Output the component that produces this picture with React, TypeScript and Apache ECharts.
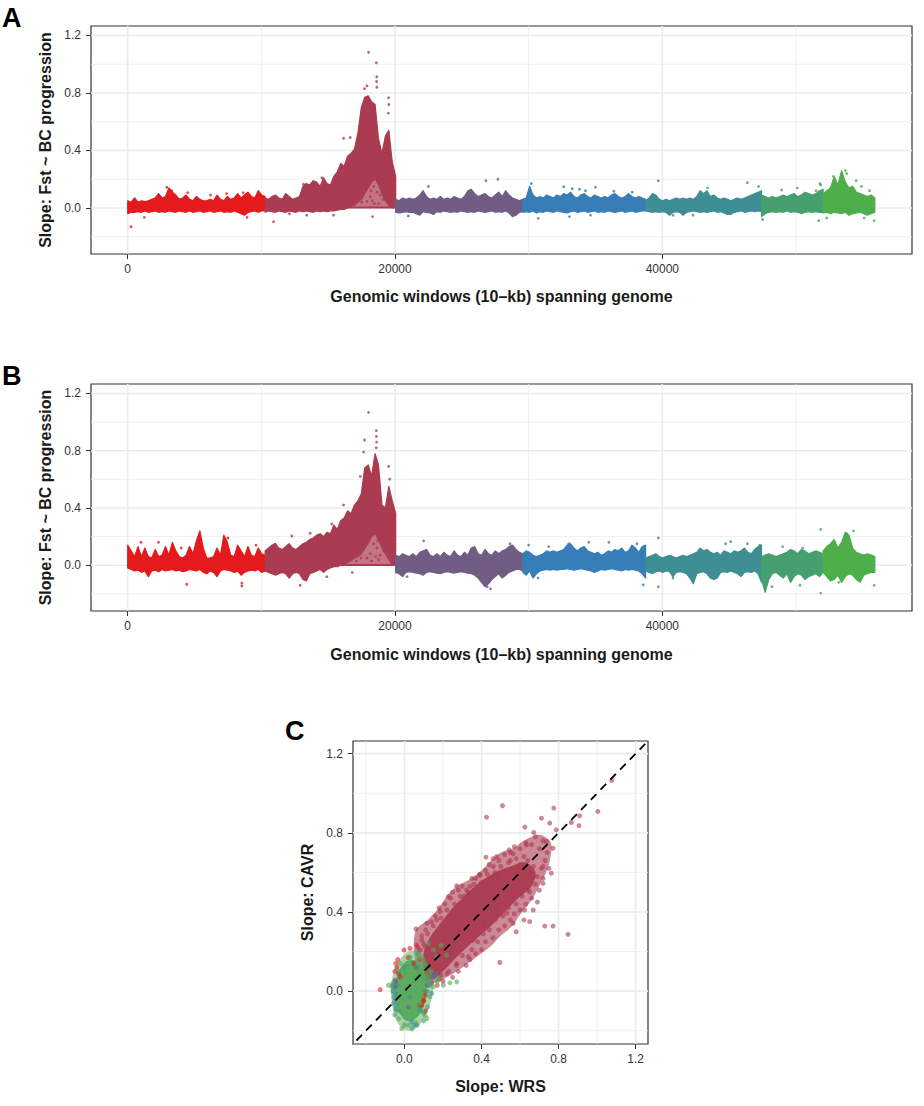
import React, { useEffect, useRef } from "react"
import * as echarts from "echarts"

// chromosome colours (ramp red -> blue -> green) and window boundaries
const CHROM_COLORS = ["#E41A1C", "#AA3B50", "#715D84", "#377EB8", "#3E8E93", "#469F6F", "#4DAF4A"]
const CHROM_BOUNDS = [0, 10280, 20050, 29560, 38750, 47420, 52030, 55900]

const X_MAJOR = [0, 20000, 40000]
const X_MINOR = [10000, 30000, 50000]
const Y_MAJOR = [0, 0.4, 0.8, 1.2]
const Y_MINOR = [-0.2, 0.2, 0.6, 1.0]
const C_MAJOR = [0, 0.4, 0.8, 1.2]
const C_MINOR = [-0.2, 0.2, 0.6, 1.0]

const GENOME_RANGE = [-2746, 58680]
const SLOPE_RANGE = [-0.32, 1.266]
const C_RANGE = [-0.267, 1.264]

// panel A: upper / lower envelope of the dense point band, per chromosome
const A_HI = [
  [0.05, 0.04, 0.07, 0.04, 0.05, 0.045, 0.05, 0.06, 0.07, 0.10, 0.07, 0.08, 0.14, 0.11, 0.09, 0.06, 0.07, 0.09, 0.06, 0.05, 0.08, 0.06, 0.05, 0.05, 0.06, 0.05, 0.09, 0.06, 0.05, 0.08, 0.06, 0.07, 0.10, 0.07, 0.09, 0.11, 0.08, 0.07, 0.12, 0.09, 0.08],
  [0.07, 0.06, 0.08, 0.09, 0.07, 0.06, 0.10, 0.08, 0.06, 0.07, 0.08, 0.15, 0.17, 0.16, 0.19, 0.18, 0.15, 0.21, 0.17, 0.16, 0.22, 0.25, 0.31, 0.29, 0.36, 0.38, 0.41, 0.52, 0.70, 0.77, 0.78, 0.74, 0.72, 0.48, 0.38, 0.50, 0.54, 0.32, 0.22],
  [0.06, 0.05, 0.07, 0.06, 0.07, 0.06, 0.07, 0.09, 0.12, 0.08, 0.06, 0.07, 0.06, 0.08, 0.06, 0.07, 0.06, 0.08, 0.07, 0.06, 0.08, 0.12, 0.13, 0.10, 0.08, 0.09, 0.10, 0.08, 0.07, 0.09, 0.11, 0.08, 0.12, 0.09, 0.07, 0.06, 0.05, 0.06],
  [0.06, 0.07, 0.15, 0.09, 0.07, 0.08, 0.07, 0.09, 0.08, 0.07, 0.09, 0.08, 0.10, 0.09, 0.11, 0.08, 0.07, 0.09, 0.10, 0.08, 0.07, 0.09, 0.08, 0.07, 0.08, 0.07, 0.09, 0.10, 0.08, 0.07, 0.08, 0.10, 0.08, 0.07, 0.08, 0.07, 0.06],
  [0.05, 0.07, 0.10, 0.09, 0.06, 0.05, 0.06, 0.05, 0.06, 0.07, 0.06, 0.07, 0.06, 0.07, 0.06, 0.08, 0.12, 0.10, 0.12, 0.08, 0.09, 0.07, 0.06, 0.07, 0.06, 0.05, 0.06, 0.07, 0.06, 0.07, 0.08, 0.09, 0.10, 0.11, 0.12],
  [0.09, 0.08, 0.07, 0.08, 0.07, 0.08, 0.09, 0.08, 0.09, 0.10, 0.08, 0.09, 0.11, 0.10, 0.09, 0.10, 0.12, 0.13],
  [0.10, 0.12, 0.14, 0.22, 0.16, 0.26, 0.18, 0.14, 0.15, 0.11, 0.10, 0.09, 0.08, 0.09, 0.07],
]
const A_LO = [
  [-0.04, -0.03, -0.03, -0.025, -0.03, -0.02, -0.03, -0.025, -0.02, -0.03, -0.025, -0.03, -0.02, -0.025, -0.03, -0.02, -0.025, -0.03, -0.02, -0.03, -0.025, -0.02, -0.03, -0.025, -0.02, -0.03, -0.025, -0.02, -0.03, -0.025, -0.03, -0.02, -0.03, -0.04, -0.05, -0.03, -0.025, -0.02, -0.03, -0.02, -0.02],
  [-0.03, -0.02, -0.025, -0.03, -0.02, -0.025, -0.03, -0.02, -0.025, -0.03, -0.02, -0.025, -0.02, -0.025, -0.03, -0.02, -0.025, -0.02, -0.025, -0.02, -0.02, -0.015, -0.01, -0.01, 0.0, 0.01, 0.02, 0.04, 0.06, 0.10, 0.14, 0.18, 0.20, 0.16, 0.10, 0.05, 0.02, 0.0, 0.0],
  [-0.03, -0.035, -0.03, -0.025, -0.03, -0.03, -0.04, -0.05, -0.025, -0.03, -0.035, -0.045, -0.025, -0.03, -0.02, -0.025, -0.03, -0.025, -0.03, -0.02, -0.025, -0.03, -0.025, -0.03, -0.02, -0.025, -0.03, -0.025, -0.02, -0.03, -0.025, -0.03, -0.02, -0.035, -0.06, -0.05, -0.03, -0.025],
  [-0.03, -0.025, -0.03, -0.02, -0.035, -0.025, -0.03, -0.02, -0.025, -0.03, -0.02, -0.025, -0.03, -0.035, -0.025, -0.02, -0.03, -0.025, -0.02, -0.03, -0.025, -0.02, -0.03, -0.025, -0.03, -0.02, -0.025, -0.03, -0.025, -0.02, -0.03, -0.025, -0.02, -0.03, -0.025, -0.02, -0.02],
  [-0.02, -0.025, -0.03, -0.025, -0.03, -0.025, -0.03, -0.05, -0.03, -0.025, -0.03, -0.05, -0.03, -0.025, -0.02, -0.025, -0.03, -0.025, -0.03, -0.025, -0.02, -0.03, -0.025, -0.035, -0.045, -0.045, -0.03, -0.025, -0.02, -0.03, -0.025, -0.02, -0.025, -0.02, -0.025],
  [-0.06, -0.04, -0.03, -0.025, -0.03, -0.025, -0.03, -0.02, -0.03, -0.025, -0.03, -0.04, -0.03, -0.025, -0.03, -0.025, -0.03, -0.03],
  [-0.035, -0.03, -0.04, -0.03, -0.035, -0.04, -0.03, -0.05, -0.04, -0.035, -0.03, -0.04, -0.05, -0.04, -0.03],
]
const A_ZERO_LINE = [[15300, 0.003], [19900, 0.003]]
const A_POINTS = [
  [250, -0.13], [1240, -0.065], [2920, 0.144], [4490, 0.107], [8640, 0.107], [8935, -0.065], [6200, 0.09], [3300, 0.12], [7400, 0.1],
  [18020, 1.083], [18600, 1.01], [18630, 0.913], [18620, 0.88], [18640, 0.84], [17720, 0.83], [17900, 0.85], [19520, 0.767], [19540, 0.72], [19500, 0.66],
  [16150, 0.485], [16650, 0.49], [14530, 0.21], [13150, 0.165], [10910, -0.095], [18320, -0.06], [15400, -0.05], [13400, -0.05], [12100, -0.04],
  [18150, 0.08], [18400, 0.15], [18020, 0.19], [18520, 0.24], [17900, 0.045], [18770, 0.03], [17650, 0.10], [19020, 0.17], [18650, 0.11], [18300, 0.05],
  [18900, 0.09], [17800, 0.14], [18200, 0.12], [18700, 0.2], [19100, 0.06], [17500, 0.04], [18450, 0.03], [16900, 0.05], [17200, 0.08], [16600, 0.03],
  [26800, 0.19], [27700, 0.20], [22500, 0.15], [21000, -0.055],
  [30200, 0.17], [32630, 0.148], [33260, 0.134], [34250, 0.12], [35000, 0.145], [36370, 0.116], [37750, 0.11], [30710, -0.072], [33050, -0.06], [34630, -0.05], [33800, 0.13],
  [39700, 0.19], [46360, 0.176], [43390, 0.14], [47200, 0.15], [40800, -0.05], [42300, -0.05],
  [47500, -0.08], [48930, 0.125], [51500, 0.12], [51800, 0.17], [51850, 0.16], [52800, 0.22], [53700, 0.26], [53800, 0.24], [54500, 0.19],
  [51700, -0.088], [55850, -0.088], [50100, 0.14], [54900, 0.15], [55500, 0.12], [52300, -0.07], [55100, -0.07],
]

// panel B
const B_HI = [
  [0.14, 0.10, 0.06, 0.13, 0.06, 0.12, 0.06, 0.05, 0.11, 0.06, 0.07, 0.13, 0.07, 0.16, 0.10, 0.06, 0.05, 0.07, 0.13, 0.08, 0.17, 0.24, 0.12, 0.05, 0.05, 0.06, 0.12, 0.07, 0.21, 0.16, 0.07, 0.06, 0.14, 0.10, 0.06, 0.13, 0.07, 0.06, 0.12, 0.08, 0.07],
  [0.10, 0.12, 0.14, 0.15, 0.12, 0.11, 0.13, 0.15, 0.12, 0.11, 0.13, 0.15, 0.16, 0.18, 0.19, 0.21, 0.22, 0.20, 0.23, 0.22, 0.28, 0.25, 0.31, 0.33, 0.38, 0.36, 0.42, 0.45, 0.50, 0.68, 0.70, 0.62, 0.78, 0.70, 0.42, 0.40, 0.55, 0.45, 0.36],
  [0.07, 0.06, 0.08, 0.07, 0.06, 0.08, 0.06, 0.09, 0.10, 0.11, 0.07, 0.06, 0.08, 0.06, 0.09, 0.07, 0.06, 0.10, 0.07, 0.06, 0.09, 0.07, 0.12, 0.13, 0.08, 0.07, 0.11, 0.08, 0.07, 0.10, 0.08, 0.10, 0.11, 0.13, 0.14, 0.11, 0.09, 0.08],
  [0.08, 0.10, 0.09, 0.07, 0.06, 0.07, 0.08, 0.10, 0.09, 0.10, 0.09, 0.10, 0.11, 0.14, 0.15, 0.12, 0.10, 0.12, 0.13, 0.10, 0.09, 0.08, 0.09, 0.07, 0.08, 0.10, 0.09, 0.11, 0.10, 0.12, 0.09, 0.10, 0.14, 0.12, 0.09, 0.13, 0.14],
  [0.05, 0.06, 0.07, 0.08, 0.06, 0.05, 0.06, 0.07, 0.06, 0.05, 0.06, 0.07, 0.06, 0.07, 0.08, 0.09, 0.12, 0.10, 0.11, 0.09, 0.08, 0.09, 0.07, 0.10, 0.09, 0.08, 0.10, 0.09, 0.10, 0.12, 0.09, 0.08, 0.11, 0.13, 0.14],
  [0.06, 0.07, 0.08, 0.07, 0.06, 0.07, 0.08, 0.09, 0.11, 0.10, 0.08, 0.11, 0.10, 0.08, 0.09, 0.10, 0.09, 0.08],
  [0.10, 0.13, 0.15, 0.18, 0.12, 0.16, 0.23, 0.21, 0.12, 0.09, 0.08, 0.07, 0.08, 0.07, 0.06],
]
const B_LO = [
  [-0.02, -0.03, -0.04, -0.035, -0.05, -0.04, -0.08, -0.04, -0.035, -0.045, -0.03, -0.04, -0.035, -0.03, -0.04, -0.035, -0.045, -0.04, -0.03, -0.035, -0.04, -0.03, -0.05, -0.06, -0.04, -0.05, -0.08, -0.04, -0.03, -0.035, -0.04, -0.05, -0.04, -0.07, -0.05, -0.04, -0.035, -0.04, -0.03, -0.05, -0.04],
  [-0.04, -0.05, -0.06, -0.07, -0.06, -0.05, -0.06, -0.09, -0.06, -0.05, -0.06, -0.10, -0.11, -0.06, -0.05, -0.04, -0.03, -0.05, -0.03, -0.02, -0.01, -0.01, 0.0, 0.0, 0.02, 0.03, 0.05, 0.06, 0.08, 0.12, 0.15, 0.20, 0.22, 0.18, 0.12, 0.08, 0.04, 0.0, 0.0],
  [-0.05, -0.06, -0.08, -0.05, -0.045, -0.05, -0.055, -0.06, -0.07, -0.05, -0.045, -0.05, -0.055, -0.06, -0.05, -0.045, -0.05, -0.055, -0.05, -0.045, -0.05, -0.055, -0.06, -0.07, -0.09, -0.12, -0.15, -0.13, -0.10, -0.08, -0.06, -0.09, -0.07, -0.05, -0.04, -0.03, -0.03, -0.04],
  [-0.05, -0.07, -0.04, -0.09, -0.06, -0.04, -0.035, -0.03, -0.035, -0.03, -0.035, -0.03, -0.03, -0.025, -0.03, -0.035, -0.03, -0.025, -0.03, -0.035, -0.04, -0.05, -0.04, -0.03, -0.035, -0.03, -0.025, -0.03, -0.035, -0.04, -0.03, -0.035, -0.03, -0.035, -0.04, -0.06, -0.09],
  [-0.04, -0.05, -0.06, -0.045, -0.04, -0.05, -0.04, -0.045, -0.08, -0.05, -0.045, -0.05, -0.06, -0.09, -0.13, -0.06, -0.05, -0.045, -0.06, -0.09, -0.10, -0.09, -0.05, -0.045, -0.05, -0.04, -0.05, -0.06, -0.08, -0.05, -0.045, -0.05, -0.04, -0.06, -0.12],
  [-0.10, -0.19, -0.10, -0.06, -0.05, -0.07, -0.09, -0.06, -0.12, -0.08, -0.06, -0.07, -0.10, -0.08, -0.07, -0.06, -0.08, -0.05],
  [-0.05, -0.08, -0.11, -0.10, -0.07, -0.12, -0.08, -0.06, -0.07, -0.10, -0.12, -0.07, -0.06, -0.05, -0.05],
]
const B_ZERO_LINE = [[14500, 0.002], [19900, 0.002]]
const B_POINTS = [
  [4420, -0.133], [8540, -0.125], [8540, -0.145], [2300, 0.16], [4000, 0.12], [7500, 0.19], [9600, 0.14], [1000, 0.16],
  [18020, 1.068], [19520, 0.69], [17720, 0.875], [17650, 0.79], [16150, 0.42], [12280, 0.204], [13650, 0.223], [15280, 0.288],
  [11030, 0.146], [11980, 0.136], [18600, 0.94], [18610, 0.90], [18620, 0.86], [18600, 0.82], [19600, 0.60], [17400, 0.62], [14900, -0.08], [16800, -0.05], [12900, -0.14],
  [18150, 0.08], [18400, 0.15], [18020, 0.19], [18520, 0.24], [17900, 0.05], [18770, 0.04], [17650, 0.11], [19020, 0.18], [18650, 0.12], [18900, 0.07],
  [18250, 0.03], [18700, 0.17], [19150, 0.1], [17450, 0.05], [17100, 0.03], [18550, 0.06],
  [22140, 0.17], [20900, -0.08], [27140, -0.165], [26900, -0.15], [28600, 0.15],
  [30000, 0.14], [31500, 0.13], [34500, 0.16], [36000, 0.16], [38100, 0.15], [30700, -0.09], [38570, -0.137], [33000, 0.15],
  [39700, 0.19], [39700, -0.15], [44740, 0.15], [45110, 0.165], [46360, 0.15], [47300, 0.14], [40800, -0.09],
  [51850, 0.25], [51850, -0.195], [55850, -0.14], [49000, 0.13], [50500, 0.12], [53800, 0.22], [54300, 0.24], [48200, -0.15], [50300, -0.14], [53200, -0.12],
]

// panel C: slope WRS (x) vs slope CAVR (y)
const C_MAROON_HALO = [
  [0.05, 0.20], [0.06, 0.31], [0.12, 0.36], [0.17, 0.41], [0.22, 0.48], [0.27, 0.53], [0.33, 0.56], [0.40, 0.61], [0.45, 0.66], [0.50, 0.70], [0.56, 0.72],
  [0.62, 0.76], [0.70, 0.79], [0.76, 0.75], [0.75, 0.64], [0.71, 0.55], [0.66, 0.46], [0.61, 0.40], [0.56, 0.33], [0.50, 0.28], [0.44, 0.22], [0.37, 0.17],
  [0.30, 0.12], [0.22, 0.07], [0.15, 0.04], [0.09, 0.05],
]
const C_MAROON_CORE = [
  [0.10, 0.10], [0.10, 0.19], [0.12, 0.25], [0.16, 0.31], [0.20, 0.36], [0.25, 0.42], [0.31, 0.48], [0.39, 0.55], [0.47, 0.60], [0.55, 0.63], [0.63, 0.65],
  [0.68, 0.60], [0.66, 0.53], [0.59, 0.47], [0.52, 0.40], [0.45, 0.33], [0.38, 0.27], [0.30, 0.20], [0.23, 0.13], [0.19, 0.09], [0.15, 0.06], [0.12, 0.06],
]
const C_GREEN_HALO = [
  [-0.07, 0.0], [-0.06, 0.08], [-0.03, 0.15], [0.02, 0.2], [0.08, 0.2], [0.12, 0.14], [0.15, 0.06], [0.14, -0.04], [0.11, -0.12], [0.07, -0.18],
  [0.02, -0.2], [-0.03, -0.17], [-0.06, -0.09],
]
const C_GREEN_CORE = [
  [-0.045, 0.05], [-0.02, 0.12], [0.02, 0.155], [0.07, 0.15], [0.10, 0.10], [0.115, 0.03], [0.11, -0.04], [0.09, -0.10], [0.05, -0.145], [0.01, -0.15],
  [-0.02, -0.12], [-0.04, -0.06], [-0.05, 0.0],
]
const C_RED = [
  [-0.126, 0.008], [-0.04, 0.12], [-0.031, 0.089], [-0.002, 0.208], [0.029, 0.216], [-0.048, 0.05], [0.098, -0.046], [0.09, -0.071],
  [-0.022, 0.073], [0.064, 0.233], [0.047, 0.14], [-0.06, 0.03], [0.11, -0.02], [0.02, 0.17], [-0.05, 0.1], [-0.045, 0.14], [-0.035, 0.16],
  [0.08, -0.07], [0.10, -0.05], [0.11, -0.10],
]
const C_MAROON = [
  [0.509, 0.937], [0.426, 0.879], [0.775, 0.925], [1.004, 0.908], [1.076, 1.065], [0.909, 0.886], [0.906, 0.836], [0.866, 0.852], [0.711, 0.874],
  [0.754, 0.849], [0.625, 0.829], [0.671, 0.802], [0.788, 0.815], [0.737, 0.756], [0.771, 0.722], [0.633, 0.739], [0.543, 0.714], [0.478, 0.68],
  [0.423, 0.677], [0.564, 0.694], [0.762, 0.596], [0.719, 0.63], [0.668, 0.579], [0.642, 0.511], [0.719, 0.545], [0.624, 0.41], [0.668, 0.41],
  [0.65, 0.351], [0.728, 0.329], [0.771, 0.329], [0.849, 0.287], [0.495, 0.145], [0.564, 0.343], [0.53, 0.393], [0.478, 0.41], [0.409, 0.343],
  [0.357, 0.258], [0.331, 0.174], [0.271, 0.14], [0.219, 0.089], [0.19, 0.08], [0.159, 0.106], [0.271, 0.532], [0.228, 0.478], [0.185, 0.402],
  [0.167, 0.36], [0.116, 0.343], [0.06, 0.314], [0.09, 0.258], [0.081, 0.208], [0.106, 0.225], [0.323, 0.511], [0.392, 0.587], [0.461, 0.63],
  [0.35, 0.57], [0.31, 0.48], [0.55, 0.66], [0.60, 0.64], [0.49, 0.58],
  [0.08, 0.16], [0.10, 0.24], [0.12, 0.29], [0.15, 0.33], [0.19, 0.37], [0.22, 0.41], [0.26, 0.44], [0.29, 0.48], [0.33, 0.50], [0.36, 0.54],
  [0.40, 0.55], [0.43, 0.59], [0.47, 0.60], [0.50, 0.63], [0.54, 0.65], [0.58, 0.67], [0.62, 0.68],
  [0.14, 0.04], [0.18, 0.06], [0.23, 0.10], [0.27, 0.13], [0.30, 0.18], [0.35, 0.21], [0.38, 0.25], [0.41, 0.29], [0.44, 0.31], [0.47, 0.36],
  [0.51, 0.38], [0.54, 0.42], [0.58, 0.44], [0.61, 0.48], [0.65, 0.50], [0.68, 0.54], [0.69, 0.58], [0.67, 0.63], [0.64, 0.66],
  [0.07, 0.22], [0.09, 0.28], [0.11, 0.31], [0.14, 0.35], [0.16, 0.38], [0.18, 0.42], [0.21, 0.44], [0.24, 0.47], [0.25, 0.50], [0.28, 0.51],
  [0.30, 0.53], [0.34, 0.53], [0.37, 0.57], [0.39, 0.59], [0.42, 0.61], [0.44, 0.64], [0.46, 0.67], [0.49, 0.66], [0.52, 0.69], [0.55, 0.70],
  [0.57, 0.73], [0.60, 0.72], [0.63, 0.75], [0.66, 0.74], [0.68, 0.78], [0.70, 0.72], [0.72, 0.76], [0.74, 0.70], [0.73, 0.66], [0.71, 0.62],
  [0.12, 0.03], [0.17, 0.03], [0.20, 0.05], [0.25, 0.07], [0.28, 0.10], [0.32, 0.13], [0.34, 0.16], [0.37, 0.19], [0.40, 0.21], [0.42, 0.25],
  [0.46, 0.27], [0.49, 0.31], [0.52, 0.33], [0.55, 0.36], [0.57, 0.39], [0.60, 0.41], [0.63, 0.44], [0.66, 0.47], [0.70, 0.51], [0.72, 0.57],
  [0.75, 0.62], [0.62, 0.36], [0.58, 0.30], [0.69, 0.45],
]
const C_PURPLE = [[-0.05, 0.02], [0.11, 0.0], [0.06, 0.12], [0.02, -0.08]]
const C_BLUE = [
  [-0.057, 0.022], [-0.048, -0.012], [-0.045, -0.07], [0.141, -0.012], [0.15, 0.073], [0.12, 0.03], [0.038, -0.155], [0.064, -0.172],
  [-0.048, 0.056], [0.167, 0.089], [-0.06, 0.0], [0.10, -0.11], [-0.055, -0.03], [-0.05, -0.05], [-0.04, 0.03], [-0.045, -0.09],
]
const C_TEAL = [[0.029, -0.029], [0.081, -0.096], [-0.03, -0.10], [0.12, 0.06], [0.0, 0.12], [0.05, -0.17]]
const C_GREEN1 = [[-0.05, -0.12], [0.0, -0.17], [0.04, -0.19], [0.10, -0.15], [-0.06, 0.04], [0.12, -0.08], [0.11, 0.12], [-0.03, 0.10], [0.07, 0.19], [0.13, 0.03]]
const C_GREEN2 = [
  [-0.014, -0.189], [0.021, -0.172], [0.116, -0.138], [0.107, -0.122], [0.06, -0.16], [-0.04, -0.096], [-0.057, -0.062], [-0.083, 0.03],
  [-0.065, 0.02], [0.15, 0.022], [0.202, 0.03], [0.236, 0.042], [0.271, 0.047], [0.176, 0.064], [0.13, 0.05], [0.116, 0.073], [0.167, 0.174],
  [0.219, 0.182], [0.124, 0.241], [0.15, 0.208], [0.098, 0.14], [0.081, 0.106], [-0.022, 0.14], [0.012, 0.123], [0.038, -0.113], [0.081, -0.062],
  [-0.057, -0.003], [0.133, -0.029], [0.055, 0.073], [0.003, 0.089], [0.03, 0.17], [0.08, 0.17], [-0.03, -0.14], [0.09, -0.10], [0.12, 0.0],
  [0.14, 0.10], [0.19, 0.23], [0.17, 0.05],
]
const C_DIAG = [[-0.3, -0.3], [1.3, 1.3]]

const FONT = "'Liberation Sans', Arial, Helvetica, sans-serif"

const colorAt = (x: number) => {
  for (let c = 0; c < CHROM_COLORS.length; c++) {
    if (x < CHROM_BOUNDS[c + 1]) return CHROM_COLORS[c]
  }
  return CHROM_COLORS[CHROM_COLORS.length - 1]
}

const chromPositions = (c: number, n: number) => {
  const s = CHROM_BOUNDS[c]
  const e = CHROM_BOUNDS[c + 1]
  return Array.from({ length: n }, (_, i) => s + ((e - s) * i) / (n - 1))
}

const axis = (gridIndex: number, range: number[], ticks: number[], fmt: (v: number) => string, name: string, nameGap: number, margin: number) => ({
  type: "value",
  gridIndex,
  min: range[0],
  max: range[1],
  name,
  nameLocation: "middle",
  nameGap,
  nameTextStyle: { fontFamily: FONT, fontSize: 16, fontWeight: "bold", color: "#1a1a1a" },
  axisLine: { show: false, onZero: false },
  axisTick: { show: true, length: 5, customValues: ticks, lineStyle: { color: "#333", width: 1 } },
  axisLabel: { show: true, customValues: ticks, formatter: fmt, margin, fontFamily: FONT, fontSize: 12, color: "#333" },
  splitLine: { show: false },
  minorSplitLine: { show: false },
})

const gridLines = (idx: number, xr: number[], yr: number[], xMajor: number[], xMinor: number[], yMajor: number[], yMinor: number[]) => {
  const items: number[][] = []
  xMinor.forEach((v) => items.push([v, 0, 0]))
  yMinor.forEach((v) => items.push([v, 1, 0]))
  xMajor.forEach((v) => items.push([v, 0, 1]))
  yMajor.forEach((v) => items.push([v, 1, 1]))
  return {
    type: "custom",
    xAxisIndex: idx,
    yAxisIndex: idx,
    silent: true,
    z: 0,
    data: items,
    renderItem: (params: any, api: any) => {
      const it = items[params.dataIndex]
      const v = it[0]
      const p1 = it[1] === 0 ? api.coord([v, yr[0]]) : api.coord([xr[0], v])
      const p2 = it[1] === 0 ? api.coord([v, yr[1]]) : api.coord([xr[1], v])
      return {
        type: "line",
        shape: { x1: p1[0], y1: p1[1], x2: p2[0], y2: p2[1] },
        style: { stroke: "#EBEBEB", lineWidth: it[2] ? 1.6 : 0.8 },
      }
    },
  }
}

// dense band per chromosome; where the lower edge lifts above zero, the gap is a thinner cloud
const bandSeries = (idx: number, hiSets: number[][], loSets: number[][]) => ({
  type: "custom",
  xAxisIndex: idx,
  yAxisIndex: idx,
  silent: true,
  z: 2,
  data: CHROM_COLORS.map((_, c) => [CHROM_BOUNDS[c], c]),
  renderItem: (params: any, api: any) => {
    const c = params.dataIndex
    const hi = hiSets[c]
    const lo = loSets[c]
    const xs = chromPositions(c, hi.length)
    const pts: number[][] = []
    xs.forEach((x, i) => pts.push(api.coord([x, hi[i]])))
    for (let i = xs.length - 1; i >= 0; i--) pts.push(api.coord([xs[i], lo[i]]))
    const children: any[] = []
    if (lo.some((v) => v > 0.02)) {
      const gap: number[][] = []
      xs.forEach((x, i) => gap.push(api.coord([x, Math.max(lo[i], 0)])))
      for (let i = xs.length - 1; i >= 0; i--) gap.push(api.coord([xs[i], 0]))
      children.push({ type: "polygon", shape: { points: gap }, style: { fill: CHROM_COLORS[c], opacity: 0.7 } })
    }
    children.push({
      type: "polygon",
      shape: { points: pts },
      style: { fill: CHROM_COLORS[c], stroke: CHROM_COLORS[c], lineWidth: 1.2, lineJoin: "round" },
    })
    return { type: "group", children }
  },
})

const polygonSeries = (idx: number, pts: number[][], color: string, opacity: number) => ({
  type: "custom",
  xAxisIndex: idx,
  yAxisIndex: idx,
  silent: true,
  z: 2,
  data: [pts[0]],
  renderItem: (_params: any, api: any) => ({
    type: "polygon",
    shape: { points: pts.map((p) => api.coord(p)), smooth: 0.3 },
    style: { fill: color, opacity },
  }),
})

const dots = (idx: number, data: number[][], color: string) => ({
  type: "scatter",
  xAxisIndex: idx,
  yAxisIndex: idx,
  silent: true,
  z: 2,
  symbol: "circle",
  symbolSize: 5,
  itemStyle: { color, opacity: 0.6 },
  data,
})

const genomePanel = (idx: number, hi: number[][], lo: number[][], zero: number[][], points: number[][]) => [
  gridLines(idx, GENOME_RANGE, SLOPE_RANGE, X_MAJOR, X_MINOR, Y_MAJOR, Y_MINOR),
  bandSeries(idx, hi, lo),
  {
    type: "line",
    xAxisIndex: idx,
    yAxisIndex: idx,
    silent: true,
    z: 3,
    symbol: "none",
    data: zero,
    lineStyle: { color: CHROM_COLORS[1], width: 2 },
  },
  {
    type: "scatter",
    xAxisIndex: idx,
    yAxisIndex: idx,
    silent: true,
    z: 4,
    symbol: "circle",
    symbolSize: 2.8,
    itemStyle: { color: (p: any) => colorAt(p.value[0]) },
    data: points,
  },
]

const fmtInt = (v: number) => String(Math.round(v))
const fmt1 = (v: number) => v.toFixed(1)

const buildOption = () => ({
  animation: false,
  backgroundColor: "#ffffff",
  grid: [
    { left: 91, top: 26, width: 821, height: 228, show: true, borderColor: "#333", borderWidth: 1.2, backgroundColor: "transparent", outerBoundsMode: "none" },
    { left: 91, top: 384, width: 821, height: 227, show: true, borderColor: "#333", borderWidth: 1.2, backgroundColor: "transparent", outerBoundsMode: "none" },
    { left: 353, top: 741, width: 295, height: 303, show: true, borderColor: "#333", borderWidth: 1.2, backgroundColor: "transparent", outerBoundsMode: "none" },
  ],
  xAxis: [
    axis(0, GENOME_RANGE, X_MAJOR, fmtInt, "Genomic windows (10–kb) spanning genome", 34, 9),
    axis(1, GENOME_RANGE, X_MAJOR, fmtInt, "Genomic windows (10–kb) spanning genome", 35, 9),
    axis(2, C_RANGE, C_MAJOR, fmt1, "Slope: WRS", 34, 9),
  ],
  yAxis: [
    axis(0, SLOPE_RANGE, Y_MAJOR, fmt1, "Slope: Fst ~ BC progression", 38, 10),
    axis(1, SLOPE_RANGE, Y_MAJOR, fmt1, "Slope: Fst ~ BC progression", 38, 10),
    axis(2, C_RANGE, C_MAJOR, fmt1, "Slope: CAVR", 38, 10),
  ],
  graphic: [
    { type: "text", left: 2, top: 4, style: { text: "A", fontFamily: FONT, fontSize: 27, fontWeight: "bold", fill: "#000" } },
    { type: "text", left: 2, top: 362, style: { text: "B", fontFamily: FONT, fontSize: 27, fontWeight: "bold", fill: "#000" } },
    { type: "text", left: 285, top: 717, style: { text: "C", fontFamily: FONT, fontSize: 27, fontWeight: "bold", fill: "#000" } },
  ],
  series: [
    ...genomePanel(0, A_HI, A_LO, A_ZERO_LINE, A_POINTS),
    ...genomePanel(1, B_HI, B_LO, B_ZERO_LINE, B_POINTS),
    gridLines(2, C_RANGE, C_RANGE, C_MAJOR, C_MINOR, C_MAJOR, C_MINOR),
    dots(2, C_RED, CHROM_COLORS[0]),
    polygonSeries(2, C_MAROON_HALO, CHROM_COLORS[1], 0.6),
    polygonSeries(2, C_MAROON_CORE, CHROM_COLORS[1], 0.95),
    dots(2, C_MAROON, CHROM_COLORS[1]),
    dots(2, C_PURPLE, CHROM_COLORS[2]),
    dots(2, C_BLUE, CHROM_COLORS[3]),
    dots(2, C_TEAL, CHROM_COLORS[4]),
    polygonSeries(2, C_GREEN_HALO, "#55A85A", 0.5),
    polygonSeries(2, C_GREEN_CORE, "#55A85A", 0.92),
    dots(2, C_GREEN1, CHROM_COLORS[5]),
    dots(2, C_GREEN2, CHROM_COLORS[6]),
    {
      type: "line",
      xAxisIndex: 2,
      yAxisIndex: 2,
      silent: true,
      z: 10,
      symbol: "none",
      clip: true,
      data: C_DIAG,
      lineStyle: { color: "#000", width: 1.8, type: [8, 6] },
    },
  ],
})

export default function App() {
  const ref = useRef<HTMLDivElement>(null)

  useEffect(() => {
    if (!ref.current) return
    const chart = echarts.init(ref.current, undefined, { renderer: "svg" })
    chart.setOption(buildOption() as any)
    return () => chart.dispose()
  }, [])

  return <div ref={ref} style={{ position: "absolute", left: 0, top: 0, width: 924, height: 1106, background: "#fff" }} />
}
